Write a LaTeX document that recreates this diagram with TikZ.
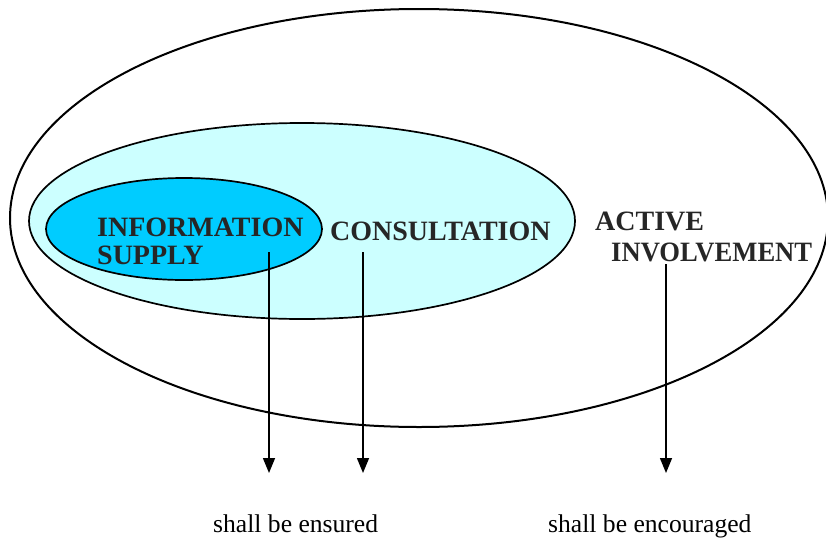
\documentclass[tikz,border=0pt]{standalone}
\usepackage{fontspec}
\setmainfont{Liberation Serif}
\usepackage{xcolor}
\usetikzlibrary{arrows.meta}
\definecolor{palecyan}{RGB}{204,255,255}
\definecolor{deepcyan}{RGB}{0,204,255}
\tikzset{
  caps/.style={font=\fontsize{28}{28}\selectfont\bfseries, text=black!85, inner sep=0pt, anchor=base west},
  note/.style={font=\fontsize{25.6}{26}\selectfont, inner sep=0pt, anchor=base west},
  down/.style={line width=1.5pt, -{Triangle[length=15pt,width=12pt]}}
}
\begin{document}
\begin{tikzpicture}[x=1pt,y=-1pt]
                    \useasboundingbox (0,0) rectangle (826,541);
                    \draw[line width=2pt] (419,218) ellipse (409 and 209);
                    \draw[line width=1.7pt,fill=palecyan] (302,221) ellipse (273 and 98);
                    \draw[line width=1.7pt,fill=deepcyan] (184,229) ellipse (138 and 51);
                    \node[caps] (info) at (97,236) {INFORMATION};
                    \node[caps] (supply) at (97,264) {SUPPLY};
                    \node[caps] (consult) at (330,240) {CONSULTATION};
                    \node[caps] (active) at (595,230) {ACTIVE};
                    \node[caps,xscale=0.95] (involve) at (611,261) {INVOLVEMENT};
                    \node[note] (ensured) at (213,532) {shall be ensured};
                    \node[note] (encouraged) at (548,532) {shall be encouraged};
                    \coordinate (infoend) at (269,473);
                    \coordinate (consultend) at (363,473);
                    \coordinate (involveend) at (666,473);
                    \draw[down] ([yshift=-16pt]info.base -| infoend) -- (infoend);
                    \draw[down] ([yshift=-12pt]consult.base -| consultend) -- (consultend);
                    \draw[down] ([yshift=-3pt]involve.base -| involveend) -- (involveend);
                \end{tikzpicture}
\end{document}
